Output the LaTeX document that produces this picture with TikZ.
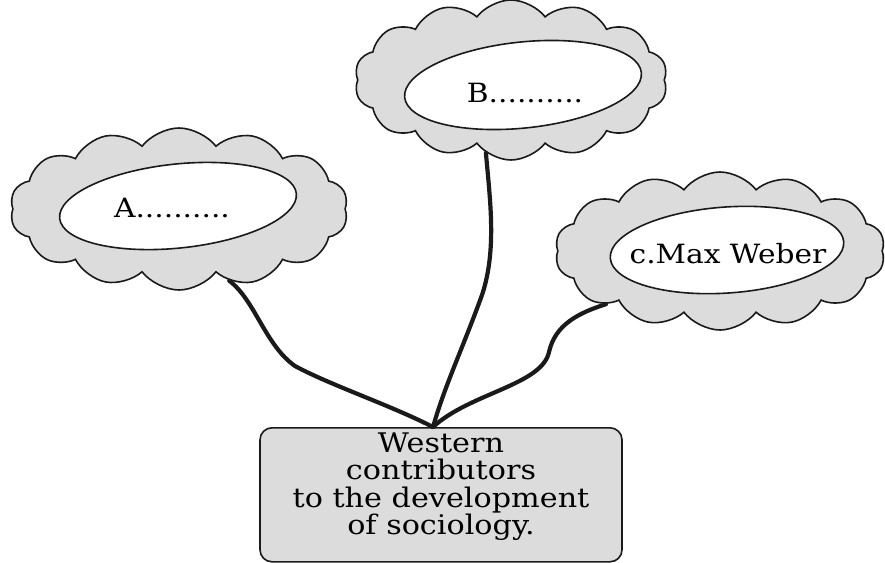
\documentclass[tikz,border=0pt]{standalone}
\usepackage{fontspec}
\setmainfont{DejaVu Serif}[FakeStretch=1.12]
\usetikzlibrary{shapes.symbols,shapes.geometric}
\definecolor{puffgray}{HTML}{DCDCDC}
\definecolor{ink}{HTML}{1A1A1A}
\begin{document}
\begin{tikzpicture}[x=1pt,y=-1pt,
  cloudbox/.style={cloud, cloud puffs=14, cloud puff arc=105, draw=ink, line width=1.6pt, fill=puffgray, inner sep=0pt},
  oval/.style={ellipse, draw=ink, line width=1.6pt, fill=white, inner sep=0pt},
  cloudtxt/.style={font=\fontsize{26.5}{30}\selectfont, inner sep=0pt},
  link/.style={draw=ink, line width=4.2pt, line cap=round}]
\useasboundingbox (0,0) rectangle (885,562);
% clouds
\node[cloudbox, minimum width=338pt, minimum height=162pt] (cA) at (179,209) {};
\node[cloudbox, minimum width=313pt, minimum height=160pt] (cB) at (511,80) {};
\node[cloudbox, minimum width=330pt, minimum height=158pt] (cC) at (720,251) {};
% inner ellipses
\node[oval, minimum width=238pt, minimum height=84pt, rotate=6] (eA) at (178,206) {};
\node[oval, minimum width=238pt, minimum height=86pt, rotate=6] (eB) at (523,85) {};
\node[oval, minimum width=234pt, minimum height=86pt, rotate=4] (eC) at (727,250) {};
% texts
\node[cloudtxt] (tA) at (172,208) {A..........};
\node[cloudtxt] (tB) at (525,93) {B..........};
\node[cloudtxt] (tC) at (728,254) {c.Max Weber};
% box
\node[draw=ink, line width=1.6pt, fill=puffgray, rounded corners=12pt, inner sep=0pt,
      minimum width=362pt, anchor=north] (bx) at (441,427)
  {\parbox[t][134pt][t]{360pt}{\centering\fontsize{27}{27.5}\selectfont
   \vspace*{5pt}Western\\contributors\\to the development\\of sociology.}};
\coordinate (j) at ([xshift=-8pt]bx.north);
% connectors
\draw[link] (cA.-55) .. controls (255,300) and (265,345) .. (295,366)
            .. controls (330,385) and (390,405) .. (j);
\draw[link] (cB.-109) .. controls (490,200) and (497,250) .. (482,295)
            .. controls (462,350) and (445,385) .. (j);
\draw[link] (cC.205) .. controls (578,313) and (555,325) .. (549,352)
            .. controls (542,385) and (470,393) .. (j);
\end{tikzpicture}
\end{document}
